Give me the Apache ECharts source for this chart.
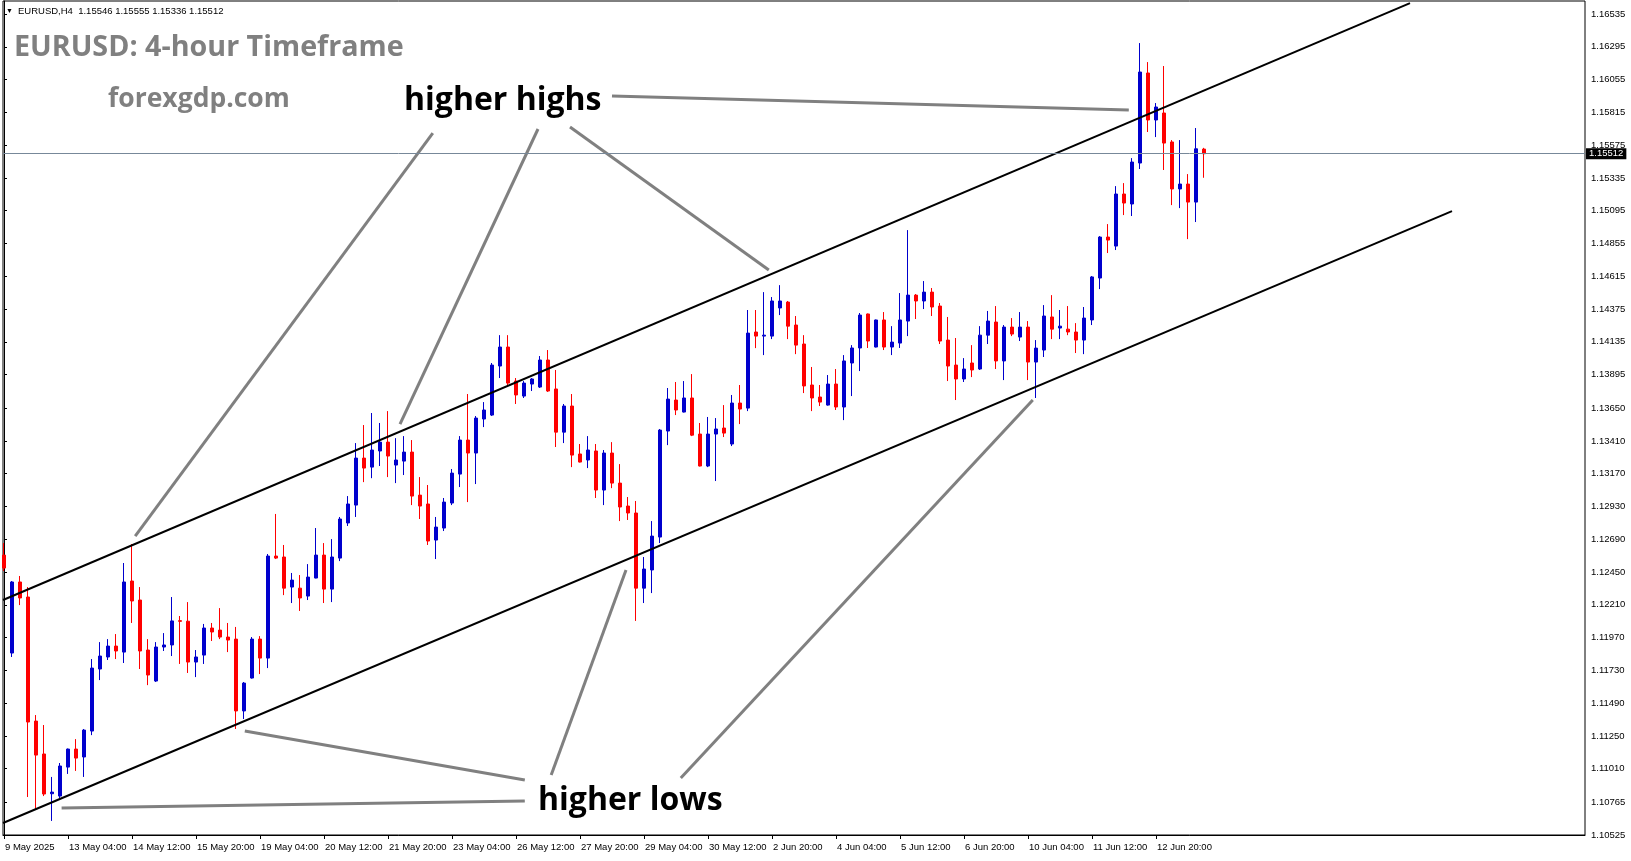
<!DOCTYPE html>
<html><head><meta charset="utf-8">
<script src="https://cdn.jsdelivr.net/npm/echarts@6/dist/echarts.min.js"></script>
<style>html,body{margin:0;padding:0;background:#fff}#c{width:1631px;height:861px}</style>
</head><body><div id="c"></div>
<script>
const symbolName = 'EURUSD,H4';
const chartTitle = 'EURUSD: 4-hour Timeframe';
const siteName = 'forexgdp.com';
const xTickLabels = ['9 May 2025','13 May 04:00','14 May 12:00','15 May 20:00','19 May 04:00','20 May 12:00','21 May 20:00','23 May 04:00','26 May 12:00','27 May 20:00','29 May 04:00','30 May 12:00','2 Jun 20:00','4 Jun 04:00','5 Jun 12:00','6 Jun 20:00','10 Jun 04:00','11 Jun 12:00','12 Jun 20:00'];
const yTickLabels = [1.10525,1.10765,1.11010,1.11250,1.11490,1.11730,1.11970,1.12210,1.12450,1.12690,1.12930,1.13170,1.13410,1.13650,1.13895,1.14135,1.14375,1.14615,1.14855,1.15095,1.15335,1.15575,1.15815,1.16055,1.16295,1.16535];

const open = [1.12574,1.11857,1.12377,1.12267,1.11359,1.11118,1.10827,1.10810,1.11022,1.11154,
1.11096,1.11286,1.11740,1.11828,1.11908,1.11864,1.12384,1.12245,1.11879,1.11652,
1.11901,1.11916,1.12094,1.12090,1.11791,1.11842,1.12040,1.12025,1.11974,1.11959,
1.11433,1.11674,1.11959,1.11820,1.12567,1.12560,1.12340,1.12332,1.12274,1.12406,
1.12574,1.12325,1.12552,1.12809,1.12940,1.13284,1.13218,1.13336,1.13401,1.13233,
1.13262,1.13328,1.13013,1.12948,1.12684,1.12772,1.12955,1.13167,1.13416,1.13321,
1.13570,1.13599,1.13958,1.14097,1.13848,1.13738,1.13826,1.13804,1.14002,1.13790,
1.13474,1.13665,1.13314,1.13270,1.13336,1.13050,1.13321,1.13101,1.12933,1.12882,
1.12332,1.12465,1.12706,1.13482,1.13709,1.13621,1.13724,1.13460,1.13226,1.13460,
1.13504,1.13387,1.13687,1.13650,1.14207,1.14177,1.14177,1.14383,1.14426,1.14258,
1.14119,1.13819,1.13731,1.13672,1.13826,1.13658,1.13980,1.14090,1.14339,1.14097,
1.14295,1.14097,1.14126,1.14287,1.14477,1.14434,1.14499,1.14397,1.14148,1.13965,
1.13863,1.13980,1.13936,1.14184,1.14280,1.13995,1.14243,1.14170,1.14243,1.13987,
1.14075,1.14317,1.14236,1.14228,1.14207,1.14148,1.14295,1.14602,1.14902,1.14836,
1.15217,1.15144,1.15444,1.16103,1.15759,1.15810,1.15598,1.15254,1.15290,1.15158,
1.15546];
const high = [1.12662,1.12384,1.12421,1.12340,1.11403,1.11330,1.10950,1.11052,1.11158,1.11227,
1.11301,1.11813,1.11937,1.11959,1.11996,1.12516,1.12655,1.12340,1.11959,1.11937,
1.12003,1.12267,1.12128,1.12230,1.11879,1.12070,1.12077,1.12186,1.12077,1.12048,
1.11645,1.11974,1.11981,1.12582,1.12875,1.12648,1.12443,1.12428,1.12508,1.12772,
1.12662,1.12691,1.12853,1.13006,1.13394,1.13526,1.13614,1.13541,1.13628,1.13430,
1.13445,1.13416,1.13145,1.13087,1.12853,1.12992,1.13204,1.13445,1.13753,1.13592,
1.13694,1.13980,1.14184,1.14184,1.13870,1.13848,1.13870,1.14031,1.14075,1.13929,
1.13680,1.13753,1.13387,1.13445,1.13387,1.13343,1.13401,1.13240,1.12999,1.12970,
1.12560,1.12823,1.13497,1.13797,1.13841,1.13848,1.13899,1.13541,1.13585,1.13577,
1.13672,1.13746,1.13819,1.14368,1.14368,1.14499,1.14463,1.14550,1.14434,1.14324,
1.14184,1.13951,1.13819,1.13892,1.13936,1.14038,1.14111,1.14346,1.14342,1.14298,
1.14353,1.14250,1.14492,1.14953,1.14485,1.14580,1.14529,1.14419,1.14317,1.14163,
1.14016,1.14111,1.14250,1.14361,1.14397,1.14258,1.14309,1.14353,1.14287,1.14148,
1.14404,1.14477,1.14368,1.14397,1.14272,1.14390,1.14617,1.14909,1.14997,1.15275,
1.15297,1.15480,1.16322,1.16183,1.15883,1.16154,1.15612,1.15612,1.15363,1.15700,
1.15555];
const low = [1.12457,1.11828,1.12208,1.10803,1.10708,1.10810,1.10628,1.10796,1.10972,1.10994,
1.10950,1.11256,1.11659,1.11806,1.11813,1.11784,1.12077,1.11740,1.11622,1.11645,
1.11872,1.11835,1.11777,1.11711,1.11681,1.11777,1.11945,1.11959,1.11864,1.11301,
1.11374,1.11670,1.11703,1.11747,1.12545,1.12281,1.12223,1.12165,1.12245,1.12404,
1.12223,1.12230,1.12530,1.12787,1.12853,1.13108,1.13137,1.13226,1.13145,1.13101,
1.13160,1.12940,1.12838,1.12648,1.12545,1.12750,1.12940,1.13072,1.12962,1.13094,
1.13511,1.13592,1.13870,1.13819,1.13680,1.13724,1.13775,1.13797,1.13768,1.13365,
1.13394,1.13218,1.13252,1.13211,1.12992,1.12940,1.13064,1.12823,1.12831,1.12092,
1.12223,1.12296,1.12662,1.13379,1.13599,1.13618,1.13445,1.13223,1.13218,1.13116,
1.13438,1.13372,1.13533,1.13628,1.14089,1.14038,1.14155,1.14331,1.14155,1.14045,
1.13760,1.13628,1.13665,1.13668,1.13636,1.13562,1.13738,1.13921,1.14090,1.14094,
1.14075,1.14038,1.14090,1.14177,1.14302,1.14375,1.14324,1.14119,1.13848,1.13709,
1.13841,1.13877,1.13929,1.14119,1.13936,1.13855,1.14177,1.14141,1.13855,1.13724,
1.14024,1.14155,1.14155,1.14184,1.14053,1.14045,1.14258,1.14521,1.14785,1.14807,
1.15063,1.15056,1.15400,1.15671,1.15634,1.15393,1.15136,1.15114,1.14887,1.15012,
1.15336];
const close = [1.12479,1.12377,1.12260,1.11352,1.11110,1.10825,1.10839,1.11030,1.11154,1.11088,
1.11293,1.11747,1.11835,1.11908,1.11872,1.12377,1.12238,1.11872,1.11696,1.11901,
1.11916,1.12092,1.12089,1.11791,1.11828,1.12040,1.12011,1.11974,1.11952,1.11433,
1.11637,1.11959,1.11820,1.12567,1.12552,1.12332,1.12391,1.12260,1.12413,1.12574,
1.12325,1.12560,1.12838,1.12948,1.13284,1.13211,1.13343,1.13401,1.13299,1.13270,
1.13328,1.13006,1.12933,1.12677,1.12779,1.12962,1.13174,1.13416,1.13321,1.13577,
1.13636,1.13965,1.14097,1.13833,1.13746,1.13833,1.13863,1.14002,1.13775,1.13474,
1.13665,1.13306,1.13255,1.13343,1.13050,1.13321,1.13101,1.12926,1.12882,1.12332,
1.12472,1.12713,1.13489,1.13716,1.13636,1.13724,1.13452,1.13226,1.13460,1.13497,
1.13467,1.13687,1.13643,1.14199,1.14177,1.14184,1.14434,1.14434,1.14250,1.14111,
1.13812,1.13724,1.13694,1.13826,1.13658,1.13995,1.14090,1.14331,1.14141,1.14295,
1.14097,1.14133,1.14295,1.14477,1.14434,1.14499,1.14390,1.14141,1.13958,1.13863,
1.13936,1.13929,1.14184,1.14287,1.13995,1.14243,1.14192,1.14243,1.13987,1.14089,
1.14324,1.14228,1.14250,1.14207,1.14148,1.14309,1.14610,1.14902,1.14880,1.15217,
1.15151,1.15451,1.16110,1.15759,1.15854,1.15590,1.15254,1.15290,1.15158,1.15548,
1.15512];

// channel lines and pointer lines: [barIndex, price] end points
const upperChannel = [[-0.125, 1.12245], [175.75, 1.16615]];
const lowerChannel = [[-0.125, 1.10613], [181, 1.15092]];
const higherHighsPointers = [
  [[76, 1.15934], [140.6, 1.15832]],
  [[53.6, 1.15663], [16.4, 1.12713]],
  [[66.75, 1.15693], [49.5, 1.13533]],
  [[70.75, 1.15707], [95.6, 1.14661]]
];
const higherLowsPointers = [
  [[30.1, 1.11286], [65.1, 1.10927]],
  [[7.2, 1.10722], [65.1, 1.10774]],
  [[68.4, 1.10964], [77.75, 1.12465]],
  [[84.6, 1.10942], [128.6, 1.13709]]
];

const candleData = open.map((o, i) => [i, o, close[i], low[i], high[i]]);
const last = open.length - 1;
const xTickIdx = xTickLabels.map((_, k) => k * 8);
const smallFont = 'Liberation Sans';

function seg(data, color, width) {
  return { type: 'line', data: data, symbol: 'none', silent: true, z: 4, animation: false,
    lineStyle: { color: color, width: width }, tooltip: { show: false } };
}
const series = [{
  type: 'candlestick',
  data: candleData,
  barWidth: 4,
  z: 2,
  itemStyle: { color: '#0000CD', borderColor: '#0000CD', color0: '#FF0000', borderColor0: '#FF0000', borderColorDoji: '#0000CD', borderWidth: 1 },
  markLine: {
    silent: true, symbol: 'none', animation: false, precision: 5,
    lineStyle: { color: '#778899', width: 1, type: 'solid' },
    label: { show: true, position: 'end', distance: 1, backgroundColor: '#000', color: '#fff',
      fontFamily: smallFont, fontSize: 9.5, padding: [1, 3, 0, 3], lineHeight: 10,
      formatter: () => close[last].toFixed(5) },
    data: [{ yAxis: close[last] }]
  }
}];
series.push(seg(upperChannel, '#000', 2));
series.push(seg(lowerChannel, '#000', 2));
higherHighsPointers.forEach(s => series.push(seg(s, '#808080', 3)));
higherLowsPointers.forEach(s => series.push(seg(s, '#808080', 3)));

const chart = echarts.init(document.getElementById('c'), null, { renderer: 'canvas' });
chart.setOption({
  animation: false,
  backgroundColor: '#fff',
  grid: { left: 3, right: 46, top: 1, bottom: 26, show: true, borderColor: '#000', borderWidth: 1, outerBoundsMode: 'none' },
  xAxis: {
    type: 'value', min: -0.125, max: 197.625, position: 'bottom',
    axisLine: { show: true, lineStyle: { color: '#000', width: 1 } },
    axisTick: { show: true, length: 4, inside: false, customValues: xTickIdx, lineStyle: { color: '#000' } },
    axisLabel: { show: true, customValues: xTickIdx, align: 'left', margin: 7, padding: [0, 0, 0, 1],
      color: '#000', fontFamily: smallFont, fontSize: 9.5,
      formatter: v => xTickLabels[Math.round(v / 8)] },
    splitLine: { show: false }
  },
  yAxis: {
    type: 'value', position: 'right', min: yTickLabels[0], max: 1.16630, scale: true,
    axisLine: { show: true, lineStyle: { color: '#000', width: 1 } },
    axisTick: { show: true, length: 3, inside: false, customValues: yTickLabels, lineStyle: { color: '#000' } },
    axisLabel: { show: true, customValues: yTickLabels, margin: 6, color: '#000', fontFamily: smallFont, fontSize: 9.5,
      formatter: v => v.toFixed(5) },
    splitLine: { show: false }
  },
  graphic: [
    { type: 'text', x: 6, y: 11, style: { text: '▼', fill: '#000', fontSize: 7, fontFamily: smallFont, verticalAlign: 'middle' } },
    { type: 'text', x: 18, y: 11, style: { text: symbolName + '  ' + [open[last], high[last], low[last], close[last]].map(v => v.toFixed(5)).join(' '),
      fill: '#000', fontSize: 9.5, fontFamily: smallFont, verticalAlign: 'middle' } },
    { type: 'text', x: 14, y: 48, style: { text: chartTitle, fill: '#808080', fontSize: 28.7, fontWeight: 'bold', fontFamily: 'Open Sans', verticalAlign: 'middle' } },
    { type: 'text', x: 108, y: 99, style: { text: siteName, fill: '#808080', fontSize: 26.5, fontWeight: 'bold', fontFamily: 'Open Sans', verticalAlign: 'middle' } },
    { type: 'text', x: 404, y: 101, style: { text: 'higher highs', fill: '#000', fontSize: 32, fontWeight: 'bold', fontFamily: 'Open Sans', verticalAlign: 'middle' } },
    { type: 'text', x: 538, y: 801, style: { text: 'higher lows', fill: '#000', fontSize: 32, fontWeight: 'bold', fontFamily: 'Open Sans', verticalAlign: 'middle' } }
  ],
  series: series
});
</script></body></html>
